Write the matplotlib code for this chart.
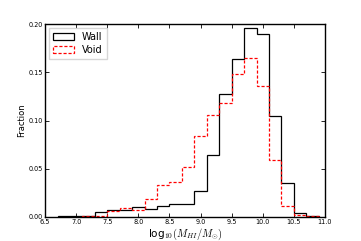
import numpy as np
import matplotlib
matplotlib.use('Agg')
import matplotlib.pyplot as plt

plt.rcParams['mathtext.fontset'] = 'cm'

# bin edges (width 0.2 dex)
wall_edges = np.round(np.arange(6.7, 10.95, 0.2), 2)
void_edges = np.round(np.arange(7.1, 10.95, 0.2), 2)

# fraction per bin
wall_frac = [0.0007, 0.0007, 0.0007, 0.0050, 0.0076, 0.0070, 0.0104, 0.0086,
             0.0115, 0.0135, 0.0135, 0.0270, 0.0640, 0.1270, 0.1640, 0.1955,
             0.1895, 0.1050, 0.0350, 0.0038, 0.0010]
void_frac = [0.0005, 0.0010, 0.0060, 0.0088, 0.0072, 0.0183, 0.0332, 0.0360,
             0.0520, 0.0840, 0.1060, 0.1185, 0.1485, 0.1650, 0.1360, 0.0590,
             0.0108, 0.0017, 0.0008]

fig = plt.figure(figsize=(3.61, 2.41), dpi=100)
ax = fig.add_axes([0.125, 0.1, 0.775, 0.8])

wall_mid = (wall_edges[:-1] + wall_edges[1:]) / 2
void_mid = (void_edges[:-1] + void_edges[1:]) / 2
ax.hist(wall_mid, bins=wall_edges, weights=wall_frac, histtype='step',
        color='k', lw=0.9, label='Wall')
ax.hist(void_mid, bins=void_edges, weights=void_frac, histtype='step',
        color='r', ls=(0, (2.5, 1.5)), lw=0.9, label='Void')

ax.set_xlim(6.5, 11.0)
ax.set_ylim(0, 0.20)
ax.set_xticks(np.arange(6.5, 11.01, 0.5))
ax.set_yticks(np.arange(0, 0.201, 0.05))
ax.tick_params(direction='in', length=3, width=0.6, labelsize=4.7, pad=1.5,
               top=True, right=True)
for s in ax.spines.values():
    s.set_linewidth(1.0)

ax.set_ylabel('Fraction', fontsize=6, labelpad=2)
ax.set_xlabel(r'log$_{10}(M_{HI}/M_{\odot})$', fontsize=7.5, labelpad=1)
ax.legend(loc='upper left', fontsize=7, frameon=True, fancybox=False,
          borderaxespad=0.4, handlelength=2.2, handletextpad=0.8,
          borderpad=0.4, labelspacing=0.3)

fig.savefig('out.png', dpi=100)
